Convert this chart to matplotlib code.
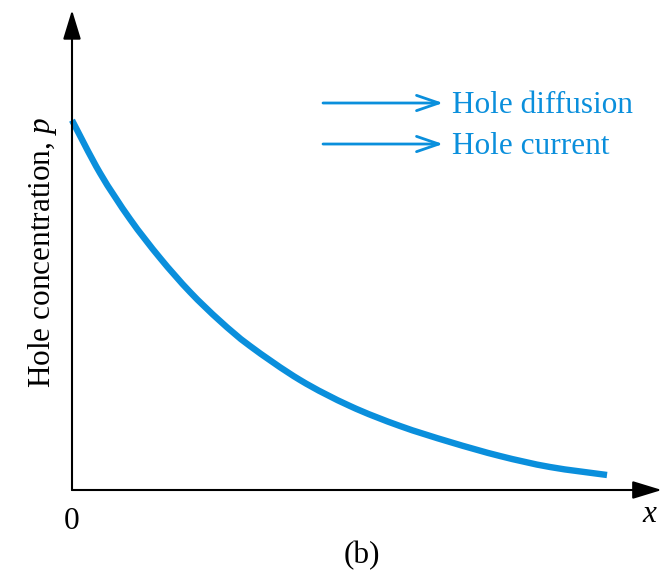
import matplotlib
matplotlib.use("Agg")
import matplotlib.pyplot as plt
from matplotlib.path import Path
from matplotlib.patches import PathPatch

plt.rcParams['mathtext.fontset'] = 'custom'
plt.rcParams['mathtext.rm'] = 'Liberation Serif'
plt.rcParams['mathtext.it'] = 'Liberation Serif:italic'

# Data (x normalised to axis length, p normalised to axis height)
x_vals = [0.0, 0.0476, 0.0986, 0.1497, 0.2007, 0.2517, 0.3027, 0.3878, 0.4728,
          0.5578, 0.6429, 0.7279, 0.8129, 0.9099]
p_vals = [0.7736, 0.6632, 0.5669, 0.4854, 0.4142, 0.3536, 0.3013, 0.2301, 0.1757,
          0.1339, 0.1004, 0.0711, 0.0481, 0.0314]
legend_labels = ["Hole diffusion", "Hole current"]
y_label = r"Hole concentration, $p$"
x_label = r"$x$"
origin_label = "0"
caption = "(b)"

BLUE = '#0a8fdc'
FONT = 'Liberation Serif'
FS = 22.5

fig = plt.figure(figsize=(6.72, 5.77), dpi=100)
ax = fig.add_axes([0, 0, 1, 1])
ax.set_xlim(-72 / 588, (672 - 72) / 588)
ax.set_ylim(-(577 - 490) / 478, 490 / 478)
ax.axis('off')

# axes with arrowheads
ax.annotate('', xy=(1.003, 0), xytext=(0, 0),
            arrowprops=dict(arrowstyle='-|>,head_length=1.8,head_width=0.55',
                            lw=1.5, color='black', shrinkA=0, shrinkB=0))
ax.annotate('', xy=(0, 1.004), xytext=(0, 0),
            arrowprops=dict(arrowstyle='-|>,head_length=1.8,head_width=0.55',
                            lw=1.5, color='black', shrinkA=0, shrinkB=0))

# smooth curve through the read points (Catmull-Rom as cubic Bezier segments)
pts = list(zip(x_vals, p_vals))
verts = [pts[0]]
codes = [Path.MOVETO]
n = len(pts)
for i in range(n - 1):
    p0 = pts[i - 1] if i > 0 else pts[i]
    p1 = pts[i]
    p2 = pts[i + 1]
    p3 = pts[i + 2] if i + 2 < n else pts[i + 1]
    c1 = (p1[0] + (p2[0] - p0[0]) / 6, p1[1] + (p2[1] - p0[1]) / 6)
    c2 = (p2[0] - (p3[0] - p1[0]) / 6, p2[1] - (p3[1] - p1[1]) / 6)
    verts += [c1, c2, p2]
    codes += [Path.CURVE4] * 3
ax.add_patch(PathPatch(Path(verts, codes), fill=False, edgecolor=BLUE, lw=4.6,
                       capstyle='butt', joinstyle='round'))

# legend arrows
leg_y = [0.8096, 0.7238]
for lab, yy in zip(legend_labels, leg_y):
    ax.annotate('', xy=(0.631, yy), xytext=(0.4269, yy),
                arrowprops=dict(arrowstyle='->,head_length=1.6,head_width=0.55',
                                lw=2.0, color=BLUE, shrinkA=0, shrinkB=0))
    ax.text(0.646, yy - 0.021, lab, color=BLUE, fontsize=FS, family=FONT,
            ha='left', va='baseline')

ax.text(-0.051, 0.496, y_label, rotation=90, fontsize=FS, family=FONT,
        ha='center', va='center')
ax.text(0.0, -0.066, origin_label, fontsize=FS, family=FONT, ha='center', va='center')
ax.text(0.983, -0.052, x_label, fontsize=FS, family=FONT, ha='center', va='center')
ax.text(0.493, -0.138, caption, fontsize=FS, family=FONT, ha='center', va='center')

fig.savefig('out.png', dpi=100)
